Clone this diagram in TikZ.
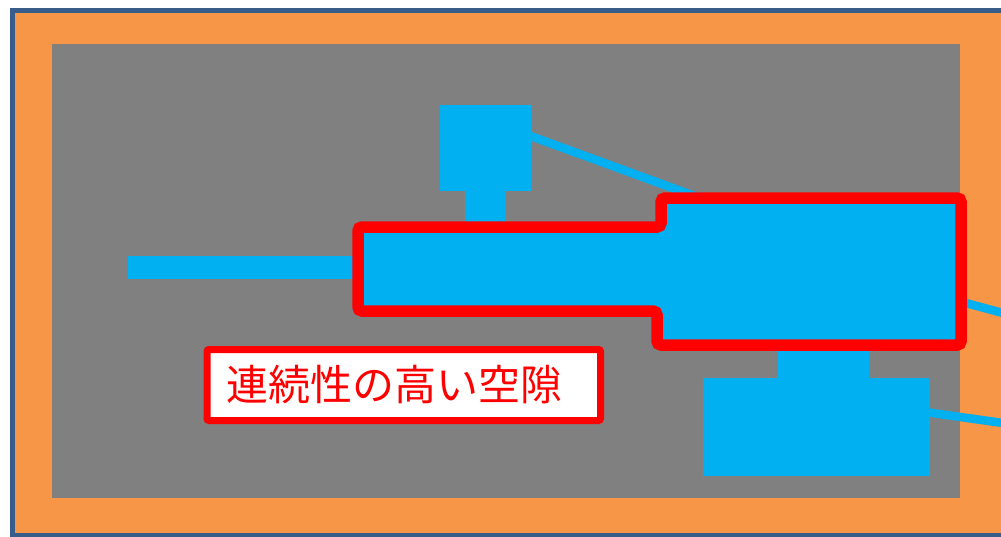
\documentclass[tikz,border=0pt]{standalone}
\usepackage{fontspec}
\newfontfamily\jpfont{Noto Sans CJK JP}
\usetikzlibrary{positioning}
\definecolor{frameorange}{HTML}{F79646}
\definecolor{frameblue}{HTML}{385D8A}
\definecolor{poregray}{HTML}{808080}
\definecolor{poreblue}{HTML}{00B0F0}
\definecolor{markred}{HTML}{FF0000}

\begin{document}
\begin{tikzpicture}[x=1pt, y=-1pt,
    poreline/.style={draw=poreblue, line width=8.5pt},
    porebox/.style={fill=poreblue},
    gapmark/.style={fill=poreblue, draw=markred, line width=11.5pt, rounded corners=4pt},
    labelbox/.style={draw=markred, fill=white, line width=7pt, rounded corners=2pt, text=markred,
        font=\jpfont\fontsize{42}{42}\selectfont, minimum height=71pt, text width=354.5pt,
        inner xsep=19.5pt, align=left}]
    \useasboundingbox (0,0) rectangle (1001,536);
    \clip (0,0) rectangle (1001,536);

    % sample frame
    \draw[draw=frameblue, line width=5pt, fill=frameorange] (12.5,10.5) rectangle (1020,535);
    \fill[poregray] (52,44) rectangle (960,498);

    % thin connecting pores
    \draw[poreline] (525,134) -- (700,198);
    \draw[poreline] (940,296) -- (1010,315);
    \draw[poreline] (925,412) -- (1010,424);
    \fill[porebox] (128,256) rectangle (362,279);

    % isolated pores
    \fill[porebox] (440,105) rectangle (531,191);
    \fill[porebox] (465,189) rectangle (506,232);
    \fill[porebox] (778,340) rectangle (869,379);
    \fill[porebox] (703,378) rectangle (930,476);

    % highly connected gap
    \draw[gapmark] (358,227) -- (661,227) -- (661,198) -- (961,198)
        -- (961,345) -- (657,345) -- (657,311) -- (358,311) -- cycle;

    % label
    \node (gaplabel) [labelbox, anchor=west] at (203.5,385) {連続性の高い空隙};
\end{tikzpicture}
\end{document}
